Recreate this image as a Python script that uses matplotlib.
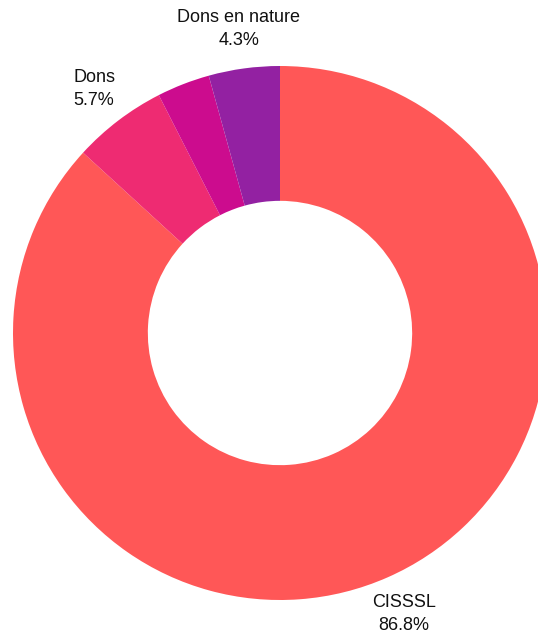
import numpy as np
import matplotlib.pyplot as plt

plt.rcParams['font.family'] = ['Liberation Sans', 'DejaVu Sans']

# slices, clockwise from 12 o'clock
labels = ['CISSSL', 'Dons', '', 'Dons en nature']
values = [86.8, 5.7, 3.2, 4.3]
colors = ['#FF5757', '#EE2B72', '#CC0C8E', '#9321A2']

fig = plt.figure(figsize=(5.38, 6.35), dpi=100)
ax = fig.add_axes([0, 0, 1, 1])

cx, cy, R = 280, 302, 267
wedges, _ = ax.pie(values, colors=colors, startangle=90, counterclock=False,
                   center=(cx, cy), radius=R, frame=True,
                   wedgeprops=dict(width=R * 0.505, linewidth=0))
ax.set_xlim(0, 538)
ax.set_ylim(0, 635)
ax.set_aspect('equal')
ax.axis('off')

total = sum(values)
start = 90.0
for lab, v in zip(labels, values):
    mid = start - v / total * 360 / 2
    start -= v / total * 360
    if not lab:
        continue
    a = np.deg2rad(mid)
    x = cx + 1.15 * R * np.cos(a)
    y = cy + 1.15 * R * np.sin(a)
    ax.text(x, y, '%s\n%.1f%%' % (lab, v), ha='center', va='center',
            fontsize=13, linespacing=1.45, color='#111111')

fig.savefig('out.png', dpi=100)
